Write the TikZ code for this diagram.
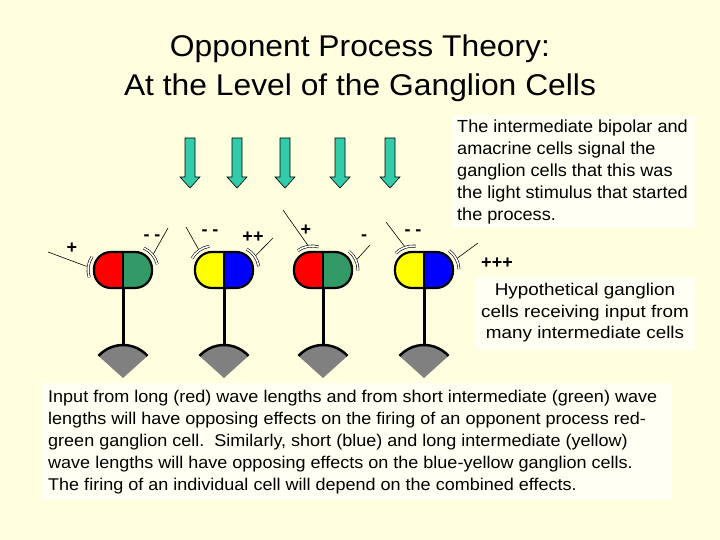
\documentclass[tikz,border=0pt]{standalone}
\usepackage{fontspec}
\setmainfont{Liberation Sans}
\usetikzlibrary{calc}
\definecolor{bg}{HTML}{FFFFE0}
\definecolor{boxc}{HTML}{FFFFF4}
\definecolor{teal}{HTML}{33CCAA}
\definecolor{cgreen}{HTML}{339966}
\definecolor{cred}{HTML}{FF0000}
\definecolor{cyel}{HTML}{FFFF00}
\definecolor{cblue}{HTML}{0000FF}
\definecolor{sgray}{HTML}{808080}
\newfontfamily\fa[FakeStretch=1.035]{Liberation Sans}
\newfontfamily\fb[FakeStretch=1.11]{Liberation Sans}
\newfontfamily\fc[FakeStretch=1.06]{Liberation Sans}
\tikzset{
 syn/.style={double=white,double distance=1.6pt,line width=0.6pt,draw=black},
 lbl/.style={font=\fontsize{18}{18}\selectfont\bfseries,inner sep=0pt},
 tbox/.style={fill=boxc,draw=none}
}
\newcommand\mycell[4]{% name, x, left color, right color
 \begin{scope}
 \clip[rounded corners=17pt] (#2-29,252) rectangle (#2+29,288);
 \fill[#3] (#2-29,252) rectangle (#2,288);
 \fill[#4] (#2,252) rectangle (#2+29,288);
 \end{scope}
 \draw[line width=2.2pt,rounded corners=17pt] (#2-29,252) rectangle (#2+29,288);
 \draw[line width=2pt] (#2,252) -- (#2,288);
 \coordinate (#1) at (#2,270);
 \draw[line width=3pt] (#2,252) -- (#2,194);
 \fill[sgray] (#2,162) -- ++(42:33) arc[start angle=42,end angle=138,radius=33] -- cycle;
 \draw[line width=2.5pt] (#2,162) ++(42:33) arc[start angle=42,end angle=138,radius=33];
}
\newcommand\mysyn[4]{% cap center x, angle, end x, end y
 \draw[syn] (#1,270) ++(#2-26:24) arc[start angle=#2-26,end angle=#2+26,radius=24];
 \draw[line width=0.6pt] (#1,270) ++(#2:25.5) -- (#3,#4);
}
\newcommand\myarrow[2]{% name, x
 \draw[fill=teal,draw=black,line width=0.6pt] (#2-5,402) -- (#2+5,402) -- (#2+5,363) -- (#2+10,363) -- (#2,352) -- (#2-10,363) -- (#2-5,363) -- cycle;
 \coordinate (#1) at (#2,352);
}
\begin{document}
\begin{tikzpicture}[x=1pt,y=1pt]
\fill[bg] (0,0) rectangle (720,540);
\useasboundingbox (0,0) rectangle (720,540);
\node[font=\fc\fontsize{30}{39}\selectfont,align=center] (title) at (360,472) {Opponent Process Theory:\\At the Level of the Ganglion Cells};
\foreach \n/\x in {a1/190,a2/237,a3/285,a4/340,a5/390}{\myarrow{\n}{\x}}
\mycell{c1}{123}{cred}{cgreen}
\mycell{c2}{224}{cyel}{cblue}
\mycell{c3}{323}{cred}{cgreen}
\mycell{c4}{424}{cyel}{cblue}
\mysyn{112}{172}{48}{288}
\mysyn{134}{40}{168}{312}
\mysyn{213}{125}{186}{313}
\mysyn{235}{35}{273}{302}
\mysyn{312}{100}{283}{330}
\mysyn{334}{25}{370}{295}
\mysyn{413}{110}{386}{318}
\mysyn{435}{28}{478}{297}
\node[lbl] (p1) at (72,292) {+};
\node[lbl] (p2) at (152,302) {- -};
\node[lbl] (p3) at (210,307) {- -};
\node[lbl] (p4) at (253,303) {++};
\node[lbl] (p5) at (306,310) {+};
\node[lbl] (p6) at (364,302) {-};
\node[lbl] (p7) at (413,307) {- -};
\node[lbl] (p8) at (497,277) {+++};
\fill[tbox] (452,312) rectangle (695,425);
\node[font=\fa\fontsize{17.5}{21.8}\selectfont,inner sep=0pt,align=left,anchor=north west] (t1) at (457,420) {The intermediate bipolar and\\amacrine cells signal the\\ganglion cells that this was\\the light stimulus that started\\the process.};
\fill[tbox] (476,190) rectangle (695,263);
\node[font=\fb\fontsize{17}{21.5}\selectfont,inner sep=0pt,align=center] (t2) at (585,227) {Hypothetical ganglion\\cells receiving input from\\many intermediate cells};
\fill[tbox] (42,40) rectangle (672,157);
\node[font=\fc\fontsize{17}{22}\selectfont,inner sep=0pt,align=left,anchor=north west] (t3) at (48,150) {Input from long (red) wave lengths and from short intermediate (green) wave\\lengths will have opposing effects on the firing of an opponent process red-\\green ganglion cell.\ \ Similarly, short (blue) and long intermediate (yellow)\\wave lengths will have opposing effects on the blue-yellow ganglion cells.\\The firing of an individual cell will depend on the combined effects.};
\end{tikzpicture}
\end{document}
